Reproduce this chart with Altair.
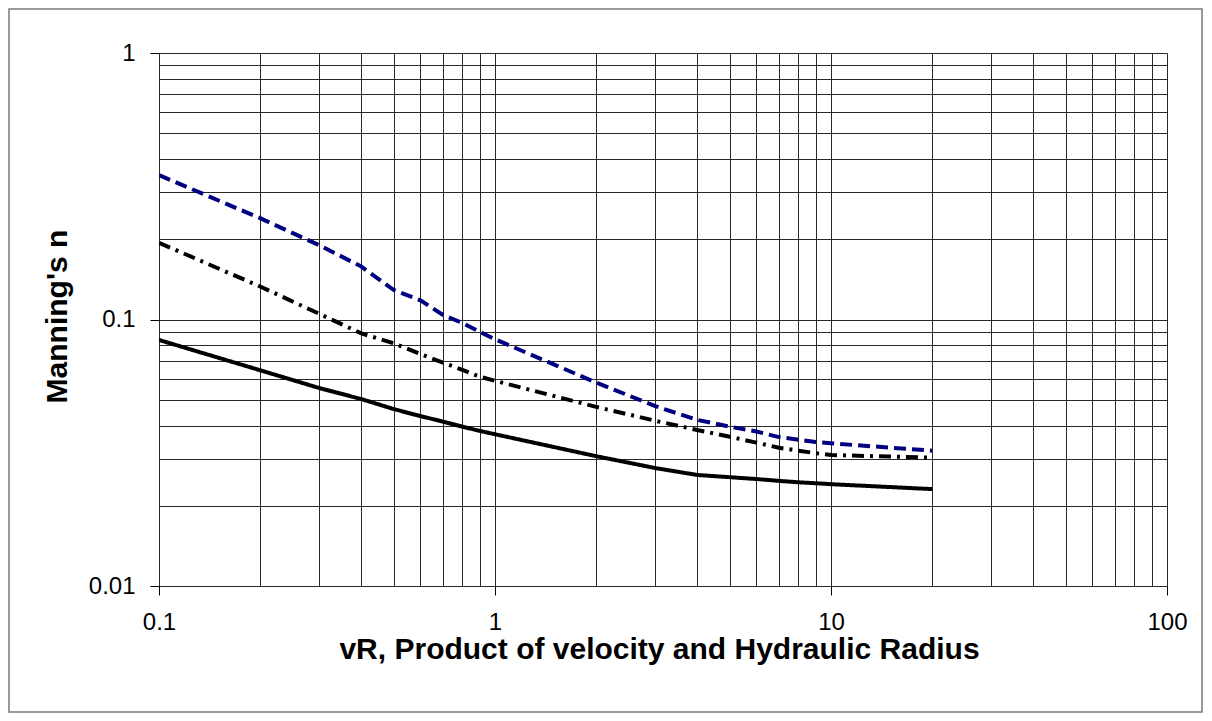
import altair as alt
import pandas as pd

# ---- data ----
x_vals = [0.1, 0.2, 0.3, 0.4, 0.5, 0.6, 0.7, 0.8, 0.9, 1, 2, 3, 4, 5, 6, 7, 8, 9, 10, 20]
n_dashed = [0.348, 0.240, 0.190, 0.158, 0.129, 0.118, 0.104, 0.097, 0.090, 0.0843,
            0.058, 0.0473, 0.042, 0.0396, 0.038, 0.0362, 0.0354, 0.0347, 0.0343, 0.0322]
n_dashdot = [0.194, 0.133, 0.105, 0.0887, 0.0814, 0.0742, 0.0689, 0.0647, 0.061, 0.0589,
             0.047, 0.0417, 0.0385, 0.0363, 0.0345, 0.033, 0.0322, 0.0315, 0.031, 0.0303]
n_solid = [0.0838, 0.0645, 0.0553, 0.0503, 0.0461, 0.0434, 0.0414, 0.0396, 0.0382, 0.0371,
           0.0307, 0.0277, 0.0261, 0.0256, 0.0252, 0.0248, 0.0245, 0.0243, 0.0241, 0.0231]
series_names = ["dashed", "dashdot", "solid"]
series_colors = ["#000080", "#000000", "#000000"]
series_dash = [[12, 6], [12, 6, 3, 6], [1, 0]]

x_grid = [0.1, 0.2, 0.3, 0.4, 0.5, 0.6, 0.7, 0.8, 0.9,
          1, 2, 3, 4, 5, 6, 7, 8, 9,
          10, 20, 30, 40, 50, 60, 70, 80, 90, 100]
y_grid = [0.01, 0.02, 0.03, 0.04, 0.05, 0.06, 0.07, 0.08, 0.09,
          0.1, 0.2, 0.3, 0.4, 0.5, 0.6, 0.7, 0.8, 0.9, 1]

x_title = "vR, Product of velocity and Hydraulic Radius"
y_title = "Manning's n"

rows = []
for name, vals in zip(series_names, [n_dashed, n_dashdot, n_solid]):
    for xv, yv in zip(x_vals, vals):
        rows.append({"vR": xv, "n": yv, "series": name})
df = pd.DataFrame(rows)

W, H = 1008, 533
MAJOR = "abs(log(datum.value)/LN10 - round(log(datum.value)/LN10)) < 0.001"
FONT = "Liberation Sans"

x_axis = alt.Axis(
    values=x_grid, grid=True, gridColor="#2a2a2a", gridWidth=1,
    domain=False, tickSize=9, tickColor="#000000", tickWidth=1,
    tickOpacity={"condition": {"test": MAJOR, "value": 1}, "value": 0},
    labelExpr=f"({MAJOR}) ? toString(datum.value) : ''",
    labelFont=FONT, labelFontSize=24, labelColor="#000000", labelPadding=15,
    labelFlush=False, labelOverlap=False,
    title=x_title, titleFont=FONT, titleFontSize=30, titleFontWeight="bold",
    titleColor="#000000", titleBaseline="alphabetic", titleY=72, titleX=W / 2 - 4,
    titleAlign="center",
)
y_axis = alt.Axis(
    values=y_grid, grid=True, gridColor="#2a2a2a", gridWidth=1,
    domain=False, tickSize=9, tickColor="#000000", tickWidth=1,
    tickOpacity={"condition": {"test": MAJOR, "value": 1}, "value": 0},
    labelExpr=f"({MAJOR}) ? toString(datum.value) : ''",
    labelFont=FONT, labelFontSize=24, labelColor="#000000", labelPadding=15,
    labelFlush=False, labelOverlap=False,
    title=y_title, titleFont=FONT, titleFontSize=30, titleFontWeight="bold",
    titleColor="#000000", titleAngle=270, titleBaseline="alphabetic",
    titleX=-93, titleY=263, titleAlign="center",
)

lines = alt.Chart(df).mark_line(strokeWidth=4, clip=True).encode(
    x=alt.X("vR:Q", scale=alt.Scale(type="log", domain=[0.1, 100], nice=False), axis=x_axis),
    y=alt.Y("n:Q", scale=alt.Scale(type="log", domain=[0.01, 1], nice=False), axis=y_axis),
    color=alt.Color("series:N", scale=alt.Scale(domain=series_names, range=series_colors), legend=None),
    strokeDash=alt.StrokeDash("series:N", scale=alt.Scale(domain=series_names, range=series_dash), legend=None),
    order=alt.Order("vR:Q"),
)

frame = alt.Chart(pd.DataFrame({"a": [0]})).mark_rect(
    filled=False, stroke="#7a7a7a", strokeWidth=1.5
).encode(
    x=alt.value(-150), x2=alt.value(W + 35),
    y=alt.value(-44), y2=alt.value(H + 126),
)

chart = alt.layer(frame, lines).properties(
    width=W, height=H,
    padding={"left": 151, "top": 45, "right": 36, "bottom": 127},
    autosize=alt.AutoSizeParams(type="none"),
    background="#ffffff",
).configure_view(strokeWidth=0)

chart.save("out.html", embed_options={"renderer": "svg", "actions": False})
